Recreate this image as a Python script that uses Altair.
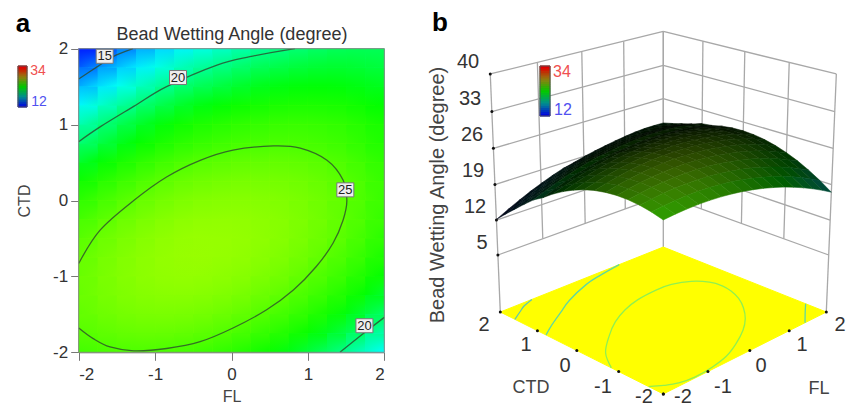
import altair as alt
import pandas as pd

# Axis ticks and surface readings (degree), estimated from the reference's contours and colours.
GRID = [-2 + 0.25 * i for i in range(17)]
Z_ROWS = [  # rows run from CTD = -2 up to CTD = 2, columns from FL = -2 to FL = 2
    [24.60,24.82,24.95,25.00,24.95,24.82,24.60,24.29,23.89,23.40,22.82,22.16,21.40,20.56,19.63,18.61,17.50],
    [25.21,25.49,25.68,25.79,25.80,25.73,25.57,25.31,24.97,24.54,24.02,23.42,22.72,21.94,21.07,20.10,19.05],
    [25.61,25.95,26.20,26.37,26.44,26.43,26.33,26.12,25.84,25.47,25.01,24.47,23.83,23.11,22.30,21.38,20.39],
    [25.81,26.21,26.52,26.75,26.88,26.93,26.89,26.73,26.51,26.20,25.80,25.32,24.74,24.08,23.33,22.46,21.53],
    [25.81,26.27,26.64,26.93,27.12,27.23,27.25,27.14,26.98,26.73,26.39,25.97,25.45,24.85,24.16,23.34,22.47],
    [25.61,26.13,26.56,26.91,27.16,27.33,27.41,27.35,27.25,27.06,26.78,26.42,25.96,25.42,24.79,24.02,23.21],
    [25.21,25.79,26.28,26.69,27.00,27.23,27.37,27.36,27.32,27.19,26.97,26.67,26.27,25.79,25.22,24.50,23.75],
    [24.61,25.25,25.80,26.27,26.64,26.93,27.13,27.17,27.19,27.12,26.96,26.72,26.38,25.96,25.45,24.78,24.09],
    [23.80,24.50,25.11,25.64,26.07,26.42,26.68,26.77,26.85,26.84,26.74,26.56,26.28,25.92,25.47,24.85,24.22],
    [22.80,23.56,24.23,24.82,25.31,25.72,26.04,26.18,26.32,26.37,26.33,26.21,25.99,25.69,25.30,24.73,24.16],
    [21.59,22.41,23.14,23.79,24.34,24.81,25.19,25.38,25.58,25.69,25.71,25.65,25.49,25.25,24.92,24.40,23.89],
    [20.18,21.06,21.85,22.56,23.17,23.70,24.14,24.38,24.64,24.81,24.89,24.89,24.79,24.61,24.34,23.87,23.42],
    [18.97,19.91,20.76,21.53,22.20,22.79,23.29,23.58,23.90,24.13,24.27,24.33,24.29,24.17,23.96,23.54,23.15],
    [17.36,18.36,19.27,20.10,20.83,21.48,22.04,22.38,22.76,23.05,23.25,23.37,23.39,23.33,23.18,22.81,22.48],
    [15.65,16.71,17.68,18.57,19.36,20.07,20.69,21.08,21.52,21.87,22.13,22.31,22.39,22.39,22.30,22.10,21.90],
    [13.93,15.05,16.08,17.03,17.88,18.65,19.33,19.77,20.27,20.68,21.00,21.30,21.50,21.60,21.60,21.45,21.30],
    [12.12,13.30,14.39,15.40,16.31,17.14,17.88,18.37,18.93,19.40,19.78,20.15,20.45,20.70,20.85,20.85,20.80],
]
CONTOUR_25 = [(-2,-.83),(-1.72,-.39),(-1.28,0),(-.85,.31),(-.41,.53),(.02,.665),(.55,.72),(.9,.69),(1.25,.53),(1.46,.27),
              (1.51,0),(1.46,-.26),(1.33,-.56),(1.11,-.87),(.81,-1.18),(.46,-1.44),(.02,-1.68),(-.41,-1.86),(-.85,-1.95),
              (-1.28,-1.98),(-1.59,-1.93),(-1.81,-1.82),(-2,-1.68)]
CONTOUR_20A = [(-2,.775),(-1.72,.97),(-1.28,1.24),(-.85,1.5),(-.19,1.785),(.24,1.895),(.83,2)]
CONTOUR_20B = [(1.42,-2),(1.73,-1.75),(2,-1.54)]
CONTOUR_15 = [(-2,1.6),(-1.76,1.76),(-1.55,1.895),(-1.29,2)]
CONTOUR_LABELS = [("15",-1.66,1.9),("20",-.70,1.62),("25",1.49,.14),("20",1.74,-1.65)]
TICKS = [-2,-1,0,1,2]
Z_TICKS = [5,12,19,26,33,40]
LEGEND_LEVELS = [12 + i for i in range(23)]
CMAP_Z = [12,17.5,22.5,27.4,34]
CMAP_RGB = ["#0000ff","#00ffff","#00ff00","#98ff00","#ff0000"]
LEGEND_Z = [12,17.5,23,28.5,34]
LEGEND_RGB = ["#0000e0","#008f8f","#00c800","#8f7f10","#e00000"]
FLOOR_COL = ["#90f050","#60d8a0","#60d8a0","#60c8b0"]
W, H, FLOOR_Z = 839, 398, -6.7

def hexrgb(c): return [int(c[i:i+2],16) for i in (1,3,5)]
def cmap(z, zs=CMAP_Z, cs=CMAP_RGB):
    z = max(zs[0], min(zs[-1], z))
    for k in range(len(zs)-1):
        if z <= zs[k+1]:
            t = (z-zs[k])/(zs[k+1]-zs[k])
            a, b = hexrgb(cs[k]), hexrgb(cs[k+1])
            return [a[n]+(b[n]-a[n])*t for n in range(3)]
def tohex(c, f=1.0): return "#%02x%02x%02x" % tuple(int(max(0,min(255,v*f))) for v in c)
def proj(u, v, z):
    d, l, h = (u+v)/4, (u-v)/4, (z-FLOOR_Z)/46.7
    w = 1 + .1156*d - .058*h
    return 663.3 + 163*l/w - 8, (312 - 36.4*d - 242.3*h)/w - 8

# ---------- panel a ----------
sx = alt.Scale(domain=[-2,2], range=[70.7,376.3], nice=False, zero=False)
sy = alt.Scale(domain=[-2,2], range=[344.3,40.7], nice=False, zero=False)
axc = dict(values=TICKS, labelExpr="''+datum.value", tickSize=8, tickColor="#777", domainColor="#777", labelFontSize=17,
           labelColor="#333", labelFont="Liberation Sans", grid=False, titleFont="Liberation Sans",
           titleFontSize=16, titleFontWeight="normal", titleColor="#444")
ax = alt.Axis(offset=-(H-344.3), title="FL", labelPadding=6, titlePadding=6, **axc)
ay = alt.Axis(offset=-70.7, title="CTD", labelPadding=3, titlePadding=20, **axc)
X = lambda f: alt.X(f, type="quantitative", scale=sx, axis=ax)
Y = lambda f: alt.Y(f, type="quantitative", scale=sy, axis=ay)

cells = []
for j, y in enumerate(GRID):
    for i, x in enumerate(GRID):
        cells.append(dict(x0=max(-2,x-.125), x1=min(2,x+.125), y0=max(-2,y-.125), y1=min(2,y+.125), z=Z_ROWS[j][i]))
color = alt.Scale(domain=CMAP_Z, range=CMAP_RGB, clamp=True)
heat = alt.Chart(pd.DataFrame(cells)).mark_rect(strokeWidth=.6).encode(
    x=X("x0"), x2="x1", y=Y("y0"), y2="y1",
    color=alt.Color("z:Q", scale=color, legend=None), stroke=alt.Stroke("z:Q", scale=color, legend=None))

# The reference surface is continuous, so each mesh cell between readings paints with gradient fills.
base_cells, over_cells = [], []
for j in range(16):
    for i in range(16):
        ca, cb = cmap(Z_ROWS[j][i]), cmap(Z_ROWS[j][i+1])
        cc, cd = cmap(Z_ROWS[j+1][i]), cmap(Z_ROWS[j+1][i+1])
        rect = dict(x0=GRID[i], x1=GRID[i+1], y0=GRID[j], y1=GRID[j+1])
        base_cells.append(dict(rect, g=dict(gradient="linear", x1=0, y1=0, x2=1, y2=0,
            stops=[dict(offset=0, color=tohex(ca)), dict(offset=1, color=tohex(cb))])))
        avg = [int((cc[n]+cd[n])/2) for n in range(3)]
        over_cells.append(dict(rect, g=dict(gradient="linear", x1=0, y1=1, x2=0, y2=0,
            stops=[dict(offset=0, color="rgba(%d,%d,%d,0)" % tuple(avg)), dict(offset=1, color="rgba(%d,%d,%d,1)" % tuple(avg))])))
def grad_layer(rows):
    return alt.Chart(alt.Data(values=rows)).mark_rect().encode(
        x=X("x0"), x2="x1", y=Y("y0"), y2="y1", fill=alt.Fill("g:N", scale=None, legend=None))
smooth = [grad_layer(base_cells), grad_layer(over_cells)]

lines = []
for n, pts in enumerate([CONTOUR_25, CONTOUR_20A, CONTOUR_20B, CONTOUR_15]):
    lines += [dict(x=p[0], y=p[1], c=n, o=k) for k, p in enumerate(pts)]
cont = alt.Chart(pd.DataFrame(lines)).mark_line(color="#2d4a2d", strokeWidth=1.3, opacity=.8, interpolate="cardinal").encode(
    x=X("x"), y=Y("y"), detail="c:N", order="o:Q")
lab_df = pd.DataFrame([dict(t=a, x=b, y=c) for a, b, c in CONTOUR_LABELS])
box = alt.Chart(lab_df).mark_rect(width=17, height=14, fill="#eeeeee", stroke="#777", strokeWidth=1).encode(x=X("x"), y=Y("y"))
lab = alt.Chart(lab_df).mark_text(fontSize=13, font="Liberation Sans", color="#222").encode(x=X("x"), y=Y("y"), text="t:N")
frame = alt.Chart(pd.DataFrame([dict(a=-2,b=2)])).mark_rect(fill=None, stroke="#888", strokeWidth=1).encode(
    x=X("a"), x2="b", y=Y("a"), y2="b")
panel_a = alt.layer(heat, *smooth, cont, frame, box, lab)

# ---------- panel b and free labels, on a plain pixel scale ----------
PX = alt.Scale(domain=[0,W], range=[0,W], nice=False, zero=False)
PY = alt.Scale(domain=[0,H], range=[0,H], nice=False, zero=False)
XP = lambda f: alt.X(f, type="quantitative", scale=PX, axis=None)
YP = lambda f: alt.Y(f, type="quantitative", scale=PY, axis=None)

def polygon(rows, **kw):
    return alt.Chart(pd.DataFrame(rows)).mark_line(interpolate="linear-closed", **kw).encode(
        x=XP("x"), y=YP("y"), order="o:Q", detail="g:N",
        fill=alt.Fill("f:N", scale=None), stroke=alt.Stroke("f:N", scale=None))

# walls
segs = []
def seg(a, b):
    p, q = proj(*a), proj(*b)
    segs.append(dict(x=p[0], y=p[1], x2=q[0], y2=q[1]))
for z in Z_TICKS:
    seg((-2,2,z),(2,2,z)); seg((2,2,z),(2,-2,z))
for t in TICKS:
    seg((t,2,5),(t,2,40)); seg((2,t,5),(2,t,40))
seg((-2,2,FLOOR_Z),(-2,2,5)); seg((2,2,FLOOR_Z),(2,2,5)); seg((2,-2,FLOOR_Z),(2,-2,5))
walls = alt.Chart(pd.DataFrame(segs)).mark_rule(color="#a8a8a8", strokeWidth=1.3).encode(
    x=XP("x"), y=YP("y"), x2="x2", y2="y2")

# floor
corners = [(-2,2),(2,2),(2,-2),(-2,-2)]
floor_rows = []
for k, (u,v) in enumerate(corners):
    px, py = proj(u,v,FLOOR_Z)
    floor_rows.append(dict(x=px,y=py,o=k,g=0,f="#ffff00"))
floor = polygon(floor_rows, strokeWidth=1)
fl = []
for n, pts in enumerate([CONTOUR_25, CONTOUR_20A, CONTOUR_20B, CONTOUR_15]):
    for k, (u,v) in enumerate(pts):
        px, py = proj(u,v,FLOOR_Z)
        fl.append(dict(x=px,y=py,o=k,c=n,f=FLOOR_COL[n]))
floor_c = alt.Chart(pd.DataFrame(fl)).mark_line(strokeWidth=1.3, interpolate="cardinal").encode(
    x=XP("x"), y=YP("y"), order="o:Q", detail="c:N", stroke=alt.Stroke("f:N", scale=None))

# surface
quads = []
for j in range(16):
    for i in range(16):
        idx = [(i,j),(i+1,j),(i+1,j+1),(i,j+1)]
        pts = [proj(GRID[a],GRID[b],Z_ROWS[b][a]) for a,b in idx]
        area = abs(sum(pts[k][0]*pts[(k+1)%4][1]-pts[(k+1)%4][0]*pts[k][1] for k in range(4)))/2
        zm = sum(Z_ROWS[b][a] for a,b in idx)/4
        quads.append((-(i+j), i, j, pts, area, zm))
quads.sort(key=lambda q: q[0])
amax = max(q[4] for q in quads)
sf = []
for n, (_, i, j, pts, area, zm) in enumerate(quads):
    f = tohex(cmap(zm), .6*(area/amax)**1.05)
    for k, p in enumerate(pts):
        sf.append(dict(x=p[0],y=p[1],o=k,g=n,f=f))
surface = polygon(sf, strokeWidth=.5)

# tick dots
dots = []
for z in Z_TICKS:
    dots.append(proj(-2,2,z))
for t in TICKS:
    dots.append(proj(-2,t,FLOOR_Z)); dots.append(proj(t,-2,FLOOR_Z))
dot = alt.Chart(pd.DataFrame(dots, columns=["x","y"])).mark_circle(size=9, color="#111", opacity=1).encode(x=XP("x"), y=YP("y"))

# colour bars
def bar(x0, x1, top, bottom):
    rows = []
    step = (bottom-top)/len(LEGEND_LEVELS)
    for k, lv in enumerate(LEGEND_LEVELS):
        y1 = bottom-k*step-8
        rows.append(dict(x=x0-8,x2=x1-8,y=y1,y2=y1-step,f=tohex(cmap(lv,LEGEND_Z,LEGEND_RGB))))
    a = alt.Chart(pd.DataFrame(rows)).mark_rect().encode(x=XP("x"),x2="x2",y=YP("y"),y2="y2",
        fill=alt.Fill("f:N",scale=None),stroke=alt.Stroke("f:N",scale=None))
    b = alt.Chart(pd.DataFrame([dict(x=x0-8,x2=x1-8,y=bottom-8,y2=top-8)])).mark_rect(fill=None,stroke="#555",strokeWidth=1).encode(
        x=XP("x"),x2="x2",y=YP("y"),y2="y2")
    return [a,b]

def text(t, x, y, size, col="#333", bold=False, angle=0, font="Liberation Sans"):
    d = pd.DataFrame([dict(t=t, x=x-8, y=y-8)])
    return alt.Chart(d).mark_text(fontSize=size, color=col, font=font, angle=angle, baseline="middle", align="center",
        fontWeight="bold" if bold else "normal").encode(x=XP("x"), y=YP("y"), text="t:N")

texts = [text("a",23,24,26,"#000",True), text("b",440,23,26,"#000",True),
         text("Bead Wetting Angle (degree)",232,35,18,"#333"),
         text("34",38,71,14,"#f05050"), text("12",39,102,14,"#5050f0"),
         text("34",562,72,16,"#f05050"), text("12",563,110,16,"#5050f0"),
         text("Bead Wetting Angle (degree)",438,195,20,"#444",angle=270),
         text("CTD",531,388,18,"#444"), text("FL",819,389,18,"#444")]
for z, xp, yp in zip([40,33,26,19,12,5],[468,470,472,473,475,482],[62,99,135,171,207,243]):
    texts.append(text(str(z),xp,yp,20))
for t, xp, yp in zip([2,1,0,-1,-2],[484,526,565,603,644],[325,345,366,387,397]):
    texts.append(text(str(t),xp,yp,20))
for t, xp, yp in zip([2,1,0,-1,-2],[840,802,761,723,683],[325,345,366,387,397]):
    texts.append(text(str(t),xp,yp,20))

panel_b = alt.layer(walls, floor, floor_c, surface, dot, *bar(18,27,66,107), *bar(540,550,66,116), *texts)

chart = alt.layer(panel_a, panel_b).resolve_scale(
    x="independent", y="independent", color="independent", stroke="independent", fill="independent"
).properties(width=W, height=H, padding=0, background="white",
    autosize=alt.AutoSizeParams(type="none", contains="padding")).configure_view(stroke=None)

chart.save("out.html", embed_options={"renderer": "svg", "actions": False})
